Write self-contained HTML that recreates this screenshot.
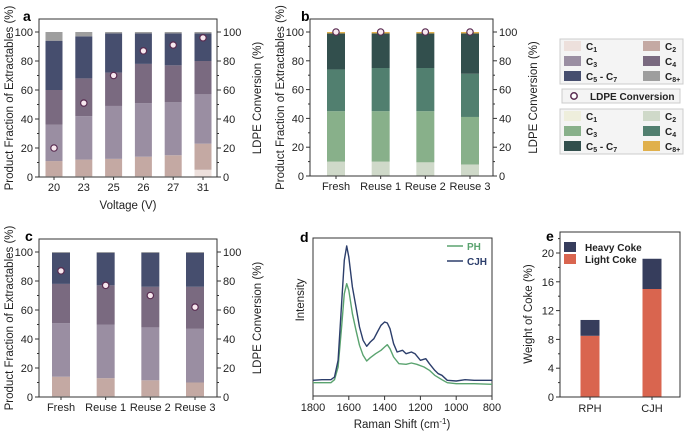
<!DOCTYPE html>
<html><head><meta charset="utf-8"><style>
body{margin:0;background:#fff;}
svg{display:block;font-family:"Liberation Sans",Arial,sans-serif;}
</style></head><body>
<svg id="fig" width="685" height="435" viewBox="0 0 685 435" xmlns="http://www.w3.org/2000/svg"></svg>
<script>
// ---- Data ----
const aCats = ["20","23","25","26","27","31"];
const aC1 = [0.5,0.5,0.5,0.5,0.5,5];
const aC2 = [10.5,11.5,12,13.5,14.5,18];
const aC3 = [25,30,36.5,37,36.5,34];
const aC4 = [24,26,23,27,25.5,23];
const aC57 = [34,29,27,21,22,19];
const aC8 = [6,3,1,1,1,1];
const aConv = [20,51,70,87,91,96];

const bCats = ["Fresh","Reuse 1","Reuse 2","Reuse 3"];
const bC1 = [0.3,0.3,0.3,0.3];
const bC2 = [9.7,9.7,9.2,7.7];
const bC3 = [35,35,35.5,33];
const bC4 = [29,30,30,30];
const bC57 = [25,24,24,28];
const bC8 = [1,1,1,1];
const bConv = [100,100,100,100];

const cCats = ["Fresh","Reuse 1","Reuse 2","Reuse 3"];
const cC1 = [0.5,0.5,0.5,0.5];
const cC2 = [13.5,12.5,11,9.5];
const cC3 = [37,37,36.5,37];
const cC4 = [27,27,28,29];
const cC57 = [21.5,22.5,23.5,23.5];
const cC8 = [0.5,0.5,0.5,0.5];
const cConv = [87,77,70,62];

const dWaveCJH = [1800,1750,1700,1680,1660,1640,1625,1612,1600,1580,1560,1540,1520,1500,1480,1460,1440,1420,1400,1385,1370,1350,1330,1300,1280,1250,1230,1200,1170,1150,1120,1100,1080,1050,1000,950,900,850,800];
const dCJH = [47,49,49,57,107,277,407,450,417,327,267,207,167,149,162,172,192,212,222,219,202,157,132,137,127,132,127,107,112,97,77,67,62,47,45,49,47,47,47];
const dWavePH = [1800,1700,1680,1660,1640,1625,1612,1600,1580,1560,1540,1520,1500,1480,1450,1420,1400,1385,1370,1350,1320,1280,1250,1220,1180,1150,1120,1080,1050,1000,900,800];
const dPH = [40,40,49,87,207,307,337,317,247,197,152,122,105,115,127,137,147,154,142,117,97,95,99,95,87,77,62,49,40,37,37,35];
const dTicks = [1800,1600,1400,1200,1000,800];

const eCats = ["RPH","CJH"];
const eLight = [8.5,15];
const eHeavy = [2.2,4.2];
const eTicks = [0,4,8,12,16,20];

const pctTicks = [0,20,40,60,80,100];

const colA = ["#ede0dc","#c4a9a3","#9a8ea2","#7a6a80","#464e6e","#9e9e9e"];
const colB = ["#eeeedc","#cfd9c9","#88b08a","#517f6f","#324f4d","#e0b04c"];

// ---- helpers ----
const svg = document.getElementById('fig');
const NS = "http://www.w3.org/2000/svg";
function el(tag, attrs, parent){
  const e = document.createElementNS(NS, tag);
  for (const k in attrs) e.setAttribute(k, attrs[k]);
  (parent||svg).appendChild(e);
  return e;
}
function txt(s, x, y, opt, parent){
  const t = el('text', Object.assign({x:x, y:y, 'font-size':11, fill:'#222'}, opt||{}), parent);
  t.textContent = s;
  return t;
}

function stackPanel(p){
  const g = el('g', {});
  
  
  const y = v => p.y0 - (p.y0 - p.y100) * v / 100;
  const n = p.cats.length;
  const step = (p.xLast - p.xFirst) / (n - 1);
  const xc = i => p.xFirst + i * step;
  // bars
  for (let i = 0; i < n; i++){
    let cum = 0;
    p.series.forEach((s, k) => {
      const v = s[i];
      const r = el('rect', {x: xc(i) - p.bw/2, y: y(cum + v), width: p.bw, height: Math.max(0, y(cum) - y(cum + v)), fill: p.cols[k]}, g);
      
      
      cum += v;
    });
  }
  // box
  const box = el('rect', {x: p.x0, y: p.top, width: p.x1 - p.x0, height: p.y0 - p.top, fill: 'none', stroke: '#333', 'stroke-width': 1}, g);
  
  
  // ticks
  for (let v = 0; v <= 100; v += 10){
    const L = v % 20 === 0 ? 4 : 2;
    el('line', {x1: p.x0, x2: p.x0 - L, y1: y(v), y2: y(v), stroke: '#333'}, g);
    el('line', {x1: p.x1, x2: p.x1 + L, y1: y(v), y2: y(v), stroke: '#333'}, g);
  }
  pctTicks.forEach(v => {
    const t1 = txt(String(v), p.x0 - 6, y(v) + 4, {'text-anchor': 'end', 'font-size': 11}, g);
    
    
    const t2 = txt(String(v), p.x1 + 6, y(v) + 4, {'font-size': 11}, g);
    
    
  });
  p.cats.forEach((c, i) => {
    el('line', {x1: xc(i), x2: xc(i), y1: p.y0, y2: p.y0 + 3, stroke: '#333'}, g);
    const t = txt(c, xc(i), p.y0 + 14, {'text-anchor': 'middle', 'font-size': 11}, g);
    
    
  });
  // conversion points
  p.conv.forEach((v, i) => {
    const c = el('circle', {cx: xc(i), cy: y(v), r: 3.2, fill: '#f7e8ef', stroke: '#5a2d52', 'stroke-width': 1.2}, g);
    
    
  });
  const cy = (p.top + p.y0) / 2;
  const lt = txt('Product Fraction of Extractables (%)', 0, 0, {'text-anchor': 'middle', 'font-size': 11.5, transform: `translate(${p.x0 - 26},${cy}) rotate(-90)`}, g);
  
  
  const rt = txt('LDPE Conversion (%)', 0, 0, {'text-anchor': 'middle', 'font-size': 11.5, transform: `translate(${p.x1 + 44},${cy}) rotate(-90)`}, g);
  
  
  const pl = txt(p.label, p.lx, p.ly, {'font-size': 14, 'font-weight': 'bold', fill: '#000'}, g);
  
  
  if (p.xtitle){
    const xt = txt(p.xtitle, (p.x0 + p.x1) / 2, p.y0 + 32, {'text-anchor': 'middle', 'font-size': 11.5}, g);
    
    
  }
}

stackPanel({name:'panel-a', label:'a', lx:23, ly:21, cats:aCats, series:[aC1,aC2,aC3,aC4,aC57,aC8], cols:colA, conv:aConv,
  x0:39, x1:217, top:19, y0:177, y100:32, xFirst:54, xLast:203, bw:17, xtitle:'Voltage (V)'});
stackPanel({name:'panel-b', label:'b', lx:301, ly:21, cats:bCats, series:[bC1,bC2,bC3,bC4,bC57,bC8], cols:colB, conv:bConv,
  x0:310, x1:493, top:19, y0:176, y100:32, xFirst:336, xLast:470, bw:18});
stackPanel({name:'panel-c', label:'c', lx:25, ly:241, cats:cCats, series:[cC1,cC2,cC3,cC4,cC57,cC8], cols:colA, conv:cConv,
  x0:39, x1:217, top:239, y0:397, y100:252, xFirst:61, xLast:195, bw:18});

// ---- Legend ----
(function(){
  const g = el('g', {});
  
  
  function block(y0, cols){
    el('rect', {x:560, y:y0, width:123, height:45, fill:'#f4f4f4', stroke:'#ccc'}, g);
    const labs = [['C','1'],['C','2'],['C','3'],['C','4'],['C','5',' - C','7'],['C','8+']];
    labs.forEach((lb, k) => {
      const col = k % 2, row = Math.floor(k / 2);
      const sx = col ? 643 : 564, ty = y0 + 7 + row * 15;
      const r = el('rect', {x:sx, y:ty - 5, width:17, height:10, fill:cols[k]}, g);
      
      
      const t = el('text', {x: sx + 22, y: ty + 4, 'font-size': 10, 'font-weight': 'bold', fill: '#222'}, g);
      
      
      let h = lb[0] + `<tspan font-size="7" dy="2">${lb[1]}</tspan>`;
      if (lb.length > 2) h += `<tspan dy="-2">${lb[2]}</tspan><tspan font-size="7" dy="2">${lb[3]}</tspan>`;
      t.innerHTML = h;
    });
  }
  block(39, colA);
  el('rect', {x:562, y:89, width:118, height:14, fill:'#f4f4f4', stroke:'#ccc'}, g);
  el('circle', {cx:574, cy:96, r:3.2, fill:'#fff', stroke:'#5a2d52', 'stroke-width':1.5}, g);
  const t = txt('LDPE Conversion', 590, 100, {'font-size':10, 'font-weight':'bold'}, g);
  
  
  block(109, colB);
})();

// ---- Panel d ----
(function(){
  const g = el('g', {});
  
  
  const x0 = 313, x1 = 492, top = 238, y0 = 396;
  const xs = w => x0 + (1800 - w) / 1000 * (x1 - x0);
  const ys = v => y0 - v / 3;
  el('rect', {x:x0, y:top, width:x1-x0, height:y0-top, fill:'none', stroke:'#333'}, g);
  dTicks.forEach(w => {
    el('line', {x1:xs(w), x2:xs(w), y1:y0, y2:y0+4, stroke:'#333'}, g);
    const t = txt(String(w), xs(w), y0 + 15, {'text-anchor':'middle', 'font-size':11}, g);
    
    
  });
  function line(ws, vs, col, name){
    const d = ws.map((w, i) => (i ? 'L' : 'M') + xs(w).toFixed(1) + ',' + ys(vs[i]).toFixed(1)).join(' ');
    const p = el('path', {d:d, fill:'none', stroke:col, 'stroke-width':1.4, 'stroke-linejoin':'round'}, g);
    
    
  }
  line(dWavePH, dPH, '#5aa36f', 'ph-spectrum');
  line(dWaveCJH, dCJH, '#2c3e6b', 'cjh-spectrum');
  el('line', {x1:447, x2:463, y1:246, y2:246, stroke:'#5aa36f', 'stroke-width':1.5}, g);
  const l1 = txt('PH', 467, 250, {'font-size':10, 'font-weight':'bold', fill:'#5aa36f'}, g);
  
  
  el('line', {x1:447, x2:463, y1:261, y2:261, stroke:'#2c3e6b', 'stroke-width':1.5}, g);
  const l2 = txt('CJH', 467, 265, {'font-size':10, 'font-weight':'bold', fill:'#2c3e6b'}, g);
  
  
  const xt = el('text', {x:402, y:428, 'text-anchor':'middle', 'font-size':11.5, fill:'#222'}, g);
  xt.innerHTML = 'Raman Shift (cm<tspan font-size="8" dy="-4">-1</tspan><tspan dy="4">)</tspan>';
  
  
  const yt = txt('Intensity', 0, 0, {'text-anchor':'middle', 'font-size':11.5, transform:'translate(304,300) rotate(-90)'}, g);
  
  
  const pl = txt('d', 300, 242, {'font-size':14, 'font-weight':'bold', fill:'#000'}, g);
  
  
})();

// ---- Panel e ----
(function(){
  const g = el('g', {});
  
  
  const x0 = 560, x1 = 680, top = 232, y0 = 397;
  const ys = v => y0 - v * 7.2;
  const xc = [590, 652];
  eCats.forEach((c, i) => {
    const r1 = el('rect', {x:xc[i]-9.5, y:ys(eLight[i]), width:19, height:y0 - ys(eLight[i]), fill:'#d9654f'}, g);
    
    
    const r2 = el('rect', {x:xc[i]-9.5, y:ys(eLight[i] + eHeavy[i]), width:19, height:eHeavy[i] * 7.2, fill:'#363d5c'}, g);
    
    
    el('line', {x1:xc[i], x2:xc[i], y1:y0, y2:y0+3, stroke:'#333'}, g);
    const t = txt(c, xc[i], y0 + 15, {'text-anchor':'middle', 'font-size':11}, g);
    
    
  });
  el('rect', {x:x0, y:top, width:x1-x0, height:y0-top, fill:'none', stroke:'#333'}, g);
  for (let v = 0; v <= 22; v += 2){
    el('line', {x1:x0, x2:x0 - (v % 4 === 0 ? 4 : 2), y1:ys(v), y2:ys(v), stroke:'#333'}, g);
  }
  eTicks.forEach(v => {
    const t = txt(String(v), x0 - 6, ys(v) + 4, {'text-anchor':'end', 'font-size':11}, g);
    
    
  });
  el('rect', {x:564, y:242, width:12, height:10, fill:'#363d5c'}, g);
  const a = txt('Heavy Coke', 585, 251, {'font-size':10, 'font-weight':'bold'}, g);
  
  
  el('rect', {x:564, y:254, width:12, height:10, fill:'#d9654f'}, g);
  const b = txt('Light Coke', 585, 263, {'font-size':10, 'font-weight':'bold'}, g);
  
  
  const yt = txt('Weight of Coke (%)', 0, 0, {'text-anchor':'middle', 'font-size':11.5, transform:'translate(532,314) rotate(-90)'}, g);
  
  
  const pl = txt('e', 546, 241, {'font-size':14, 'font-weight':'bold', fill:'#000'}, g);
  
  
})();
</script>
</body></html>
